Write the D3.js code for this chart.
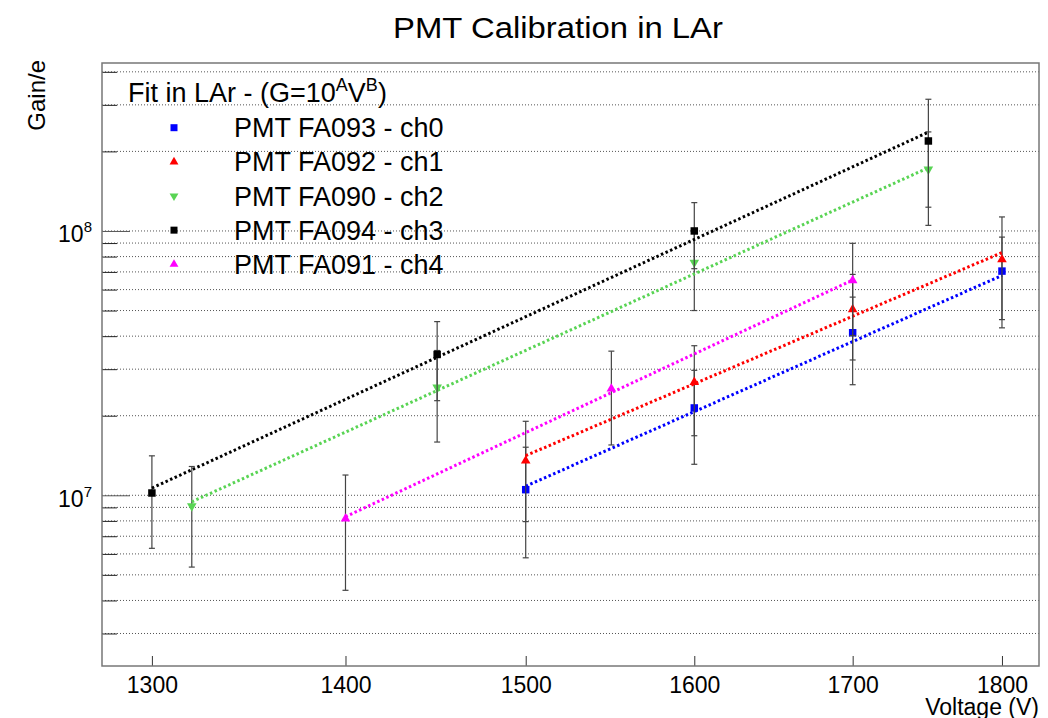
<!DOCTYPE html>
<html>
<head>
<meta charset="utf-8">
<script src="https://cdn.jsdelivr.net/npm/d3@7"></script>
<style>
  body { margin: 0; background: #fff; }
  text { font-family: "Liberation Sans", Arial, Helvetica, sans-serif; fill: #000; }
</style>
</head>
<body>
<div id="chart"></div>
<script>
// channels, in legend order
var channels = ['PMT FA093 - ch0', 'PMT FA092 - ch1', 'PMT FA090 - ch2', 'PMT FA094 - ch3', 'PMT FA091 - ch4'];

// voltage (V) of each measurement
var volts0 = [1500, 1600, 1700, 1800];
var volts1 = [1500, 1600, 1700, 1800];
var volts2 = [1320, 1450, 1600, 1750];
var volts3 = [1300, 1450, 1600, 1750];
var volts4 = [1400, 1550, 1700];

// measured gain
var gain0 = [1.05e7, 2.14e7, 4.12e7, 7.05e7];
var gain1 = [1.35e7, 2.68e7, 5.05e7, 7.8e7];
var gain2 = [9.1e6, 2.56e7, 7.6e7, 1.71e8];
var gain3 = [1.02e7, 3.41e7, 1.0e8, 2.19e8];
var gain4 = [8.15e6, 2.53e7, 6.5e7];

// gain error
var err0 = [4.7e6, 8.3e6, 1.5e7, 2.43e7];
var err1 = [5.55e6, 1.0e7, 1.8e7, 3.5e7];
var err2 = [3.75e6, 9.7e6, 2.6e7, 6.6e7];
var err3 = [3.9e6, 1.13e7, 2.8e7, 9.6e7];
var err4 = [3.78e6, 9.8e6, 2.48e7];

// fit G = 10^A * V^B
var fitA = [-24.949, -23.658, -25.229, -25.451, -26.493];
var fitB = [10.07, 9.70, 10.32, 10.43, 10.62];

var xTicks = [1300, 1400, 1500, 1600, 1700, 1800];
var yLabelled = [1e7, 1e8];

var colors = ['#0000ff', '#ff0000', '#59d454', '#000000', '#ff00ff'];
var shapes = ['square', 'up', 'down', 'square', 'up'];

var volts = [volts0, volts1, volts2, volts3, volts4];
var gains = [gain0, gain1, gain2, gain3, gain4];
var errs = [err0, err1, err2, err3, err4];

var W = 1048, H = 718;
var frameL = 102, frameR = 1039, frameT = 63, frameB = 666;

var svg = d3.select('#chart')
  .append('svg')
  .attr('width', W)
  .attr('height', H);

var x = d3.scaleLog().domain([1275.4, 1825.7]).range([frameL, frameR]);
var y = d3.scaleLog().domain([2.26e6, 4.32e8]).range([frameB, frameT]);

// horizontal grid at every log tick
var yTickVals = y.ticks();
svg.append('g')
  .selectAll('line')
  .data(yTickVals)
  .enter()
  .append('line')
  .attr('x1', frameL)
  .attr('x2', frameR)
  .attr('y1', function (d) { return y(d); })
  .attr('y2', function (d) { return y(d); })
  .attr('stroke', '#555')
  .attr('stroke-width', 1)
  .attr('stroke-dasharray', '1,2');

// axes
var xAxis = svg.append('g')
  .attr('transform', 'translate(0,' + frameB + ')')
  .call(d3.axisBottom(x).tickValues(xTicks).tickSize(-10).tickPadding(11).tickFormat(d3.format('d')));
xAxis.select('.domain').remove();
xAxis.selectAll('line').attr('stroke', '#333');
xAxis.selectAll('text')
  .attr('font-size', 23)
  .attr('font-family', '"Liberation Sans", Arial, sans-serif')
  .attr('fill', '#000');

var yAxis = svg.append('g')
  .attr('transform', 'translate(' + frameL + ',0)')
  .call(d3.axisLeft(y).tickValues(yTickVals).tickSize(-15).tickFormat(''));
yAxis.select('.domain').remove();
yAxis.selectAll('line').attr('stroke', '#222');
yAxis.selectAll('.tick')
  .filter(function (d) { return yLabelled.indexOf(d) >= 0; })
  .select('line')
  .attr('x2', 28)
  .attr('stroke', '#555');

// 10^n labels
var yLab = svg.append('g')
  .selectAll('text')
  .data(yLabelled)
  .enter()
  .append('text')
  .attr('x', 92)
  .attr('y', function (d) { return y(d) + 11.5; })
  .attr('text-anchor', 'end')
  .attr('font-size', 23);
yLab.append('tspan').text('10');
yLab.append('tspan')
  .attr('font-size', 15)
  .attr('dy', -10)
  .text(function (d) { return Math.round(Math.log10(d)); });

// frame
svg.append('rect')
  .attr('x', frameL)
  .attr('y', frameT)
  .attr('width', frameR - frameL)
  .attr('height', frameB - frameT)
  .attr('fill', 'none')
  .attr('stroke', '#777')
  .attr('stroke-width', 1.5);

function markerPath(shape, big) {
  if (shape === 'square') return d3.symbol().type(d3.symbolSquare).size(big ? 56 : 49)();
  return d3.symbol().type(d3.symbolTriangle).size(big ? 40 : 34)();
}

// series: error bars, fit, markers
channels.forEach(function (name, i) {
  var pts = volts[i].map(function (v, j) { return { v: v, g: gains[i][j], e: errs[i][j] }; });
  var g = svg.append('g');

  var eb = g.append('g')
    .selectAll('g')
    .data(pts)
    .enter()
    .append('g')
    .attr('stroke', '#444')
    .attr('stroke-width', 1.2);
  eb.append('line')
    .attr('x1', function (d) { return x(d.v); })
    .attr('x2', function (d) { return x(d.v); })
    .attr('y1', function (d) { return y(d.g + d.e); })
    .attr('y2', function (d) { return y(d.g - d.e); });
  eb.append('line')
    .attr('x1', function (d) { return x(d.v) - 3; })
    .attr('x2', function (d) { return x(d.v) + 3; })
    .attr('y1', function (d) { return y(d.g + d.e); })
    .attr('y2', function (d) { return y(d.g + d.e); });
  eb.append('line')
    .attr('x1', function (d) { return x(d.v) - 3; })
    .attr('x2', function (d) { return x(d.v) + 3; })
    .attr('y1', function (d) { return y(d.g - d.e); })
    .attr('y2', function (d) { return y(d.g - d.e); });

  var vr = d3.extent(volts[i]);
  var fit = function (v) { return Math.pow(10, fitA[i]) * Math.pow(v, fitB[i]); };
  g.append('path')
    .attr('d', d3.line()
      .x(function (v) { return x(v); })
      .y(function (v) { return y(fit(v)); })(vr))
    .attr('fill', 'none')
    .attr('stroke', colors[i])
    .attr('stroke-width', 3)
    .attr('stroke-dasharray', '2.5,2.5');

  g.append('g')
    .selectAll('path')
    .data(pts)
    .enter()
    .append('path')
    .attr('d', markerPath(shapes[i], true))
    .attr('transform', function (d) {
      return 'translate(' + x(d.v) + ',' + y(d.g) + ')' + (shapes[i] === 'down' ? ' rotate(180)' : '');
    })
    .attr('fill', colors[i]);
});

// legend
var legend = svg.append('g');
var head = legend.append('text')
  .attr('x', 128)
  .attr('y', 101.5)
  .attr('font-size', 27);
head.append('tspan').text('Fit in LAr - (G=10');
head.append('tspan').attr('font-size', 18).attr('dy', -11).text('A');
head.append('tspan').attr('dy', 11).text('V');
head.append('tspan').attr('font-size', 18).attr('dy', -11).text('B');
head.append('tspan').attr('dy', 11).text(')');

var rows = legend.selectAll('g.row')
  .data(channels)
  .enter()
  .append('g')
  .attr('class', 'row')
  .attr('transform', function (d, i) { return 'translate(0,' + (127.7 + 34.15 * i) + ')'; });
rows.append('path')
  .attr('d', function (d, i) { return markerPath(shapes[i], false); })
  .attr('transform', function (d, i) { return 'translate(174,0)' + (shapes[i] === 'down' ? ' rotate(180)' : ''); })
  .attr('fill', function (d, i) { return colors[i]; });
rows.append('text')
  .attr('x', 234)
  .attr('y', 9.5)
  .attr('font-size', 27)
  .text(function (d) { return d; });

// titles
svg.append('text')
  .attr('x', 558)
  .attr('y', 38)
  .attr('text-anchor', 'middle')
  .attr('font-size', 29)
  .attr('textLength', 330)
  .attr('lengthAdjust', 'spacingAndGlyphs')
  .text('PMT Calibration in LAr');

svg.append('text')
  .attr('x', frameR)
  .attr('y', 715)
  .attr('text-anchor', 'end')
  .attr('font-size', 23)
  .text('Voltage (V)');

svg.append('text')
  .attr('transform', 'translate(45,60) rotate(-90)')
  .attr('text-anchor', 'end')
  .attr('font-size', 24)
  .text('Gain/e');
</script>
</body>
</html>
